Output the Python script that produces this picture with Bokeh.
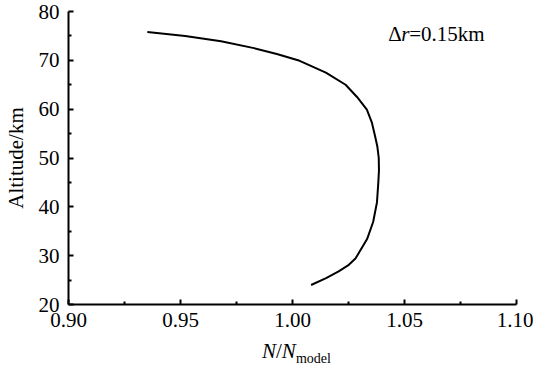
from bokeh.plotting import figure
from bokeh.models import Range1d, FixedTicker, Label, Div
from bokeh.layouts import column
from bokeh.embed import file_html
from bokeh.resources import INLINE

# ratio N/N_model (x) vs altitude (y)
ratio = [0.9352, 0.9521, 0.9681, 0.9828, 0.9930, 1.0032, 1.0149, 1.0237, 1.0288,
         1.0332, 1.0354, 1.0368, 1.0379, 1.0385, 1.0386, 1.0383, 1.0377, 1.0360,
         1.0333, 1.0281, 1.0248, 1.0206, 1.0150, 1.0083]
altitude = [75.8, 75.0, 73.9, 72.5, 71.3, 69.9, 67.5, 65.0, 62.5,
            59.9, 57.3, 54.6, 52.3, 50.0, 47.5, 44.9, 40.9, 36.9,
            33.4, 29.4, 28.0, 26.8, 25.4, 24.0]

x_ticks = [0.90, 0.95, 1.00, 1.05, 1.10]
x_tick_labels = ["0.90", "0.95", "1.00", "1.05", "1.10"]
x_minor = [0.925, 0.975, 1.025, 1.075]
y_ticks = [20, 30, 40, 50, 60, 70, 80]
y_minor = [25, 35, 45, 55, 65, 75]

FONT = "Liberation Serif"

p = figure(width=533, height=336, output_backend="svg", toolbar_location=None,
           x_range=Range1d(0.90, 1.10), y_range=Range1d(20, 80),
           min_border_left=60, min_border_right=17, min_border_top=11, min_border_bottom=32)
p.outline_line_color = None
p.grid.visible = False
p.background_fill_color = "white"
p.border_fill_color = "white"

p.xaxis.ticker = FixedTicker(ticks=x_ticks, minor_ticks=x_minor)
p.xaxis.major_label_overrides = {t: l for t, l in zip(x_ticks, x_tick_labels)}
p.yaxis.ticker = FixedTicker(ticks=y_ticks, minor_ticks=y_minor)

for ax in (p.xaxis[0], p.yaxis[0]):
    ax.axis_line_width = 2
    ax.axis_line_color = "black"
    ax.major_tick_in = 5
    ax.major_tick_out = 0
    ax.minor_tick_in = 3
    ax.minor_tick_out = 0
    ax.major_tick_line_width = 2
    ax.minor_tick_line_width = 2
    ax.major_label_text_font = FONT
    ax.major_label_text_font_size = "21px"
    ax.major_label_text_color = "black"
p.xaxis.major_label_standoff = 8
p.yaxis.major_label_standoff = 9

p.yaxis.axis_label = "Altitude/km"
p.yaxis.axis_label_text_font = FONT
p.yaxis.axis_label_text_font_size = "21px"
p.yaxis.axis_label_text_font_style = "normal"
p.yaxis.axis_label_text_color = "black"
p.yaxis.axis_label_standoff = 8

p.line(ratio, altitude, line_color="black", line_width=2)

# annotation Δr=0.15km
ax0, ay0 = 1.0427, 75.4
p.add_layout(Label(x=ax0, y=ay0, text="Δ", text_font=FONT, text_font_size="21px",
                   text_baseline="alphabetic", text_align="left", text_color="black"))
p.add_layout(Label(x=ax0, y=ay0, x_offset=13, text="r", text_font=FONT,
                   text_font_style="italic", text_font_size="21px",
                   text_baseline="alphabetic", text_align="left", text_color="black"))
p.add_layout(Label(x=ax0, y=ay0, x_offset=21, text="=0.15km", text_font=FONT,
                   text_font_size="21px",
                   text_baseline="alphabetic", text_align="left", text_color="black"))

# x-axis title N/N_model below the plot
xlabel = Div(width=533, height=27,
             text=("<div style=\"font-family:'Liberation Serif';font-size:21px;"
                   "line-height:21px;color:black;padding-left:257px;"
                   "margin:0;white-space:nowrap\">"
                   "<i>N</i>/<i>N</i><span style=\"font-size:14px;position:relative;"
                   "top:5px\">model</span></div>"))

open("out.html", "w").write(file_html(column(p, xlabel, spacing=0), INLINE))
